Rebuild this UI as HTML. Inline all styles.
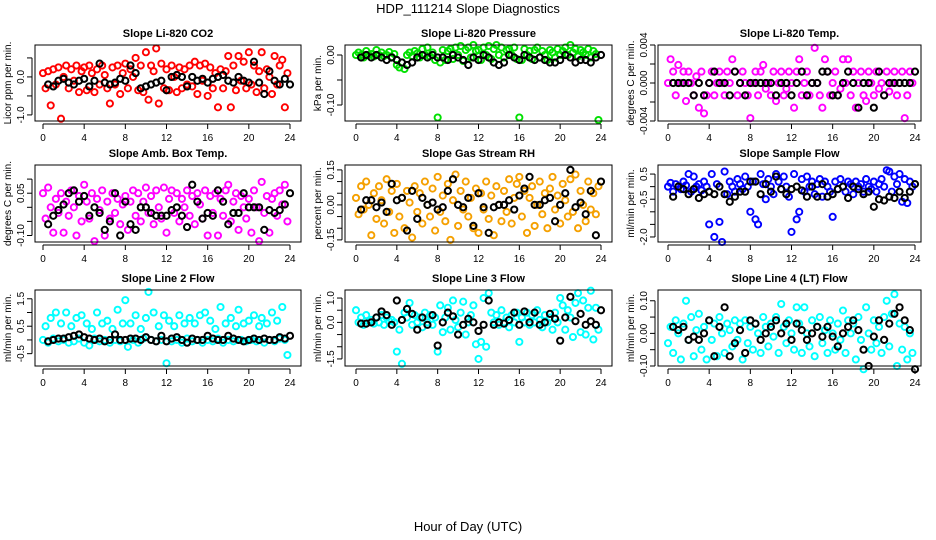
<!DOCTYPE html>
<html><head><meta charset="utf-8">
<style>
html,body{margin:0;padding:0;background:#fff;}
svg{display:block;font-family:"Liberation Sans",Arial,sans-serif;}
</style></head>
<body>
<svg id="chart" width="936" height="540" viewBox="0 0 936 540">
<text x="468" y="13" text-anchor="middle" font-size="13">HDP_111214  Slope Diagnostics</text>
<text x="468" y="531" text-anchor="middle" font-size="13">Hour of Day (UTC)</text>
</svg>
<script>
// shared hour categories
const hoursColor = [0,0.25,0.5,0.75,1,1.25,1.5,1.75,2,2.25,2.5,2.75,3,3.25,3.5,3.75,4,4.25,4.5,4.75,5,5.25,5.5,5.75,6,6.25,6.5,6.75,7,7.25,7.5,7.75,8,8.25,8.5,8.75,9,9.25,9.5,9.75,10,10.25,10.5,10.75,11,11.25,11.5,11.75,12,12.25,12.5,12.75,13,13.25,13.5,13.75,14,14.25,14.5,14.75,15,15.25,15.5,15.75,16,16.25,16.5,16.75,17,17.25,17.5,17.75,18,18.25,18.5,18.75,19,19.25,19.5,19.75,20,20.25,20.5,20.75,21,21.25,21.5,21.75,22,22.25,22.5,22.75,23,23.25,23.5,23.75];
const hoursBlack = [0.5,1,1.5,2,2.5,3,3.5,4,4.5,5,5.5,6,6.5,7,7.5,8,8.5,9,9.5,10,10.5,11,11.5,12,12.5,13,13.5,14,14.5,15,15.5,16,16.5,17,17.5,18,18.5,19,19.5,20,20.5,21,21.5,22,22.5,23,23.5,24];
const xTicks = [0,4,8,12,16,20,24];

const co2Color = [0.1,-0.3,0.15,-0.75,0.2,-0.2,0.25,-1.1,0.0,0.3,-0.3,0.2,-0.1,0.3,-0.4,0.15,0.25,-0.35,0.3,0.1,-0.4,0.2,-0.2,0.3,0.05,-0.3,-0.7,0.25,-0.2,0.3,-0.45,0.1,0.35,-0.3,0.2,0.0,0.5,-0.35,0.3,-0.4,0.65,-0.6,0.3,0.15,0.75,-0.7,0.35,-0.3,0.2,-0.35,0.3,0.0,-0.4,0.25,-0.3,0.2,-0.2,0.3,-0.25,0.4,-0.45,0.3,-0.1,0.35,-0.5,0.25,-0.3,0.1,-0.8,0.2,-0.3,0.15,0.55,-0.8,0.3,-0.35,0.55,-0.1,0.4,-0.3,0.65,-0.2,0.3,-0.4,0.15,0.65,-0.3,0.2,0.0,-0.45,0.55,-0.2,0.3,0.45,-0.8,0.1];
const co2Black = [-0.2,-0.25,-0.1,-0.05,-0.15,-0.2,-0.1,-0.05,-0.25,-0.1,0.35,-0.15,-0.2,-0.15,-0.05,-0.1,0.3,0.1,-0.3,-0.25,-0.2,-0.15,-0.1,-0.35,0.0,0.05,0.0,-0.25,0.0,-0.1,-0.05,-0.15,-0.05,0.0,0.05,-0.1,-0.15,0.0,-0.1,-0.15,0.4,-0.15,-0.45,0.15,-0.1,-0.2,-0.05,-0.2];
const co2Ticks = [-1.0,-0.5,0.0,0.5];
const co2Labels = ["-1.0","","0.0",""];

const presColor = [0.0,0.005,0.0,-0.005,0.008,0.0,0.002,-0.003,0.01,0.0,0.005,-0.002,0.0,0.006,-0.004,0.002,-0.02,-0.025,-0.015,-0.028,0.0,0.005,-0.002,0.008,0.003,-0.005,0.012,0.0,0.015,-0.003,0.005,-0.01,-0.125,-0.015,0.01,-0.01,0.008,0.012,-0.008,0.015,0.0,0.018,-0.012,0.01,0.015,-0.005,0.02,0.008,0.01,-0.01,0.015,0.0,0.018,-0.008,0.012,0.02,0.0,0.015,-0.005,0.01,0.012,0.0,0.015,-0.008,-0.125,-0.01,0.012,0.0,0.008,-0.008,0.01,0.015,-0.005,0.008,0.0,-0.01,0.01,0.005,-0.005,0.012,0.0,0.008,0.015,0.0,0.02,0.005,0.012,-0.003,0.01,0.005,0.0,0.012,-0.005,0.008,0.002,-0.13];
const presBlack = [-0.005,0.0,-0.005,0.0,-0.005,-0.01,-0.005,-0.01,-0.015,-0.02,-0.015,-0.005,0.0,-0.005,0.0,-0.005,-0.005,-0.01,0.0,-0.005,-0.01,-0.02,-0.005,-0.01,0.0,-0.005,-0.015,-0.02,-0.015,0.0,-0.005,-0.01,0.0,-0.005,-0.01,-0.005,-0.01,-0.015,-0.015,-0.01,0.0,-0.005,-0.015,-0.01,-0.01,-0.015,-0.005,0.0];
const presTicks = [-0.10,-0.05,0.00];
const presLabels = ["-0.10","","0.00"];

const tempColor = [0,0.0025,0.0012,-0.0013,0.0019,0,0.0012,-0.0019,0.0012,0,-0.0013,0.0007,-0.0026,0.0012,-0.0032,-0.0013,0,0.0012,-0.0013,0,0.0012,0,-0.0013,0.0012,0,0.0025,0.0012,-0.0013,0,0.0012,0,-0.0013,-0.0037,0,0.0012,-0.0013,0.0012,0.0019,-0.0006,0,-0.0013,0.0012,-0.0019,0,0.0012,-0.0013,-0.0006,0.0012,0,-0.0026,0.0012,0.0025,-0.0013,0,0.0012,-0.0013,0,0.0037,0,-0.0013,-0.0026,0.0025,0.0012,-0.0013,0,0.0012,-0.0013,-0.0006,0.0025,0,0.0025,-0.0013,0.0012,-0.0026,0,0.0012,-0.0013,-0.0019,0.0012,0,-0.0013,0.0012,-0.0006,0,-0.0013,0.0012,-0.0009,0,0.0012,-0.0013,0,0.0012,-0.0037,-0.0013,0.0012,0];
const tempBlack = [0,0,0,0,-0.0013,0,-0.0013,0,0.0012,0,0,-0.0013,0.0012,0,-0.0013,0,0,0,0,0,-0.0013,0,0,-0.0013,0,0.0012,-0.0013,0,0,0.0012,0.0012,-0.0013,-0.0013,0,0.0012,0,-0.0026,0,0,-0.0026,0.0012,-0.0013,0,0,0,0,0,0.0012];
const tempTicks = [-0.004,-0.002,0.000,0.002,0.004];
const tempLabels = ["-0.004","","0.000","","0.004"];

const ambColor = [0.05,-0.04,0.07,0.0,-0.09,0.03,-0.02,0.05,-0.09,0.02,-0.03,0.06,0.0,-0.1,0.04,-0.05,0.08,0.02,-0.04,0.05,-0.12,0.03,-0.01,0.06,-0.1,0.02,-0.04,0.05,-0.02,0.03,-0.06,0.01,0.04,-0.08,0.02,0.06,-0.03,0.05,-0.05,0.02,0.07,-0.02,0.04,-0.06,0.06,0.0,-0.04,0.07,-0.09,0.03,0.06,-0.02,0.05,-0.05,0.03,0.0,0.06,-0.03,0.04,-0.06,0.05,0.01,-0.04,0.06,-0.1,0.04,-0.02,0.05,-0.1,0.03,-0.03,0.06,0.08,-0.05,0.02,0.05,-0.08,0.04,0.0,-0.04,0.03,-0.09,0.06,0.0,-0.12,0.09,-0.02,0.04,-0.09,0.03,0.05,-0.03,0.06,0.01,0.08,-0.05];
const ambBlack = [-0.06,-0.03,-0.01,0.01,0.05,0.06,0.02,0.04,-0.03,0.0,-0.02,-0.08,-0.05,0.05,-0.1,0.02,-0.06,-0.08,0.0,0.0,-0.02,-0.03,-0.03,-0.03,-0.01,0.0,-0.03,-0.07,0.08,0.02,-0.04,-0.02,-0.03,0.06,0.02,-0.06,-0.02,-0.02,0.05,0.0,0.0,0.0,-0.08,-0.01,-0.02,-0.01,0.01,0.05];
const ambTicks = [-0.10,-0.05,0.00,0.05,0.10];
const ambLabels = ["-0.10","","","0.05",""];

const rhColor = [0.03,-0.04,0.08,-0.02,0.1,0.0,-0.13,0.05,-0.06,0.08,0.02,-0.08,0.11,-0.03,0.06,-0.12,0.09,-0.05,0.03,-0.1,0.06,0.01,-0.14,0.08,-0.03,0.05,-0.08,0.1,0.0,-0.05,0.07,-0.11,0.12,-0.03,0.04,-0.07,0.09,-0.15,0.02,0.13,-0.09,0.06,-0.02,0.1,-0.05,0.03,-0.1,0.07,-0.12,0.05,-0.02,0.1,-0.06,0.04,-0.13,0.08,0.0,-0.07,0.06,-0.03,0.11,-0.08,0.03,0.09,0.12,-0.05,0.06,-0.12,0.03,0.08,-0.09,0.0,0.1,-0.04,0.05,-0.1,0.07,0.12,-0.02,0.04,-0.08,0.09,0.02,-0.05,0.11,-0.03,0.13,-0.1,0.06,0.0,-0.07,0.1,-0.02,0.05,-0.04,0.08];
const rhBlack = [-0.02,0.02,0.02,-0.01,0.01,-0.03,0.09,0.02,0.03,-0.11,0.06,-0.06,0.03,0.0,0.01,-0.02,-0.01,0.06,0.11,0.0,-0.01,0.03,-0.09,0.05,-0.01,-0.12,-0.01,0.0,0.0,0.02,-0.02,0.04,0.07,0.12,0.0,0.0,0.02,0.03,-0.07,0.0,0.05,0.15,-0.01,0.01,-0.04,0.06,-0.13,0.1];
const rhTicks = [-0.15,-0.10,-0.05,0.00,0.05,0.10,0.15];
const rhLabels = ["-0.15","","","0.00","","","0.15"];

const sampColor = [0.0,0.15,-0.2,0.1,0.0,-0.1,0.2,0.05,0.5,-0.2,0.4,0.0,0.1,-0.15,0.2,0.0,-1.5,0.5,-2.0,0.1,-1.4,-2.2,0.6,-0.3,0.2,0.0,-0.2,0.3,0.1,-0.1,0.4,0.0,-1.0,0.2,-1.3,-1.5,0.5,0.1,-0.5,0.3,0.0,-0.3,0.5,0.2,-0.1,0.4,0.0,-0.4,-1.8,0.5,-1.3,-1.0,0.3,-0.2,0.4,0.0,0.2,-0.3,0.1,0.3,-0.4,0.2,0.0,-0.2,-1.2,0.2,-0.1,0.3,0.0,-0.2,0.2,0.1,-0.3,0.2,0.0,0.1,-0.2,0.3,0.0,-0.1,0.2,-0.2,0.1,0.3,0.0,0.65,0.6,-0.2,0.4,0.1,0.5,-0.6,0.3,-0.65,0.2,0.0];
const sampBlack = [-0.4,0.0,-0.1,-0.3,-0.1,-0.45,-0.3,-0.2,-0.3,0.0,-0.3,-0.6,-0.4,-0.2,-0.2,0.2,0.2,-0.3,0.1,-0.2,0.4,-0.1,-0.3,-0.1,0.0,-0.15,-0.4,0.0,-0.4,0.1,-0.4,-0.3,-0.1,0.0,-0.45,0.0,-0.1,-0.3,-0.2,-0.8,-0.5,-0.55,-0.4,-0.45,-0.2,-0.45,-0.2,0.1];
const sampTicks = [-2.0,-1.5,-1.0,-0.5,0.0,0.5];
const sampLabels = ["-2.0","","","-0.5","","0.5"];

const l2Color = [0.0,0.5,-0.1,0.8,0.05,1.0,-0.05,0.6,0.0,1.0,-0.1,0.5,-0.05,0.8,0.05,0.9,-0.1,0.6,-0.2,0.4,0.05,1.0,-0.05,0.6,0.0,0.7,-0.1,0.4,0.0,1.1,-0.05,0.6,1.45,-0.25,0.6,0.0,0.9,-0.1,0.4,0.05,0.8,1.75,0.0,1.0,-0.05,0.5,0.0,0.9,-0.85,0.7,-0.05,0.5,0.0,0.9,-0.1,0.6,0.05,0.8,-0.05,0.6,0.0,0.9,-0.1,1.0,0.0,0.7,-0.05,0.4,0.05,1.2,-0.1,0.6,0.0,0.8,-0.05,0.5,1.1,0.0,0.6,-0.05,0.7,0.0,0.9,-0.05,0.5,0.8,-0.1,0.6,0.0,1.0,-0.05,0.7,0.05,1.2,0.0,-0.55];
const l2Black = [-0.05,0.0,0.05,0.05,0.1,0.15,0.2,0.1,0.05,0.0,0.05,-0.05,0.0,0.2,0.0,0.0,0.05,0.05,0.0,0.1,0.0,-0.05,0.15,-0.05,0.05,0.1,0.0,-0.1,0.05,0.0,0.0,0.15,0.05,0.0,0.0,0.15,0.05,0.0,-0.05,0.0,0.05,0.0,0.05,0.0,0.0,0.1,0.05,0.15];
const l2Ticks = [-0.5,0.0,0.5,1.0,1.5];
const l2Labels = ["-0.5","","0.5","","1.5"];

const l3Color = [0.5,0.0,0.2,-0.1,0.3,0.0,0.1,-0.05,0.2,0.0,0.3,-0.1,0.2,0.05,0.1,0.0,-1.2,-0.3,-1.7,0.4,0.2,0.8,-0.1,0.3,0.0,0.2,-0.2,0.4,0.0,0.3,-0.1,0.2,-1.2,0.7,-0.4,0.2,0.6,-0.3,0.9,0.1,-0.2,0.4,0.85,-0.5,0.0,0.3,0.7,-0.9,-1.5,-0.8,1.0,-1.0,1.2,0.4,0.0,0.3,-0.1,0.5,0.0,0.2,-0.2,0.3,0.0,0.4,-0.8,0.2,0.0,0.4,-0.1,0.3,0.0,0.5,0.1,-0.2,0.3,0.0,0.2,-0.3,0.4,0.0,1.0,0.7,-0.3,0.5,0.2,-0.6,0.8,1.2,-0.4,0.9,-0.5,0.6,1.3,-0.7,0.6,-0.3];
const l3Black = [-0.05,-0.05,0.0,0.2,0.45,0.3,-0.1,0.9,0.1,0.55,0.35,-0.3,0.2,-0.1,0.3,-0.95,0.0,0.4,0.25,-0.5,-0.1,0.15,0.0,-0.35,-0.1,0.9,-0.1,0.0,-0.05,0.1,0.4,-0.1,0.45,0.0,0.4,-0.1,0.0,0.35,0.15,-0.75,0.2,1.05,0.05,0.35,-0.1,0.05,-0.1,0.5];
const l3Ticks = [-1.5,-1.0,-0.5,0.0,0.5,1.0];
const l3Labels = ["-1.5","","","0.0","","1.0"];

const l4Color = [-0.03,0.02,-0.06,0.04,0.0,-0.08,0.03,0.1,-0.02,0.05,-0.07,0.01,0.06,-0.05,0.02,-0.08,0.04,-0.02,0.03,-0.07,0.05,0.0,-0.06,0.03,0.01,-0.04,0.04,-0.02,0.03,-0.08,0.04,-0.03,0.02,-0.05,0.03,0.0,-0.06,0.05,0.02,-0.04,0.03,-0.01,0.05,-0.06,0.09,0.02,-0.03,0.04,0.0,-0.05,0.08,0.03,-0.06,0.08,0.0,-0.04,0.04,-0.07,0.02,0.05,-0.03,0.01,-0.06,0.04,0.0,-0.05,0.03,-0.02,0.07,-0.06,0.04,0.0,0.03,-0.08,0.05,-0.02,-0.11,0.08,0.0,-0.05,0.04,-0.03,0.02,-0.06,0.05,0.1,-0.04,0.06,0.12,-0.1,0.03,-0.05,0.02,-0.08,0.0,-0.06];
const l4Black = [0.02,0.01,0.02,-0.02,-0.01,-0.02,0.0,0.04,-0.07,0.02,0.08,-0.07,-0.03,0.01,-0.06,0.04,0.03,-0.02,0.0,0.02,0.04,0.0,0.03,-0.02,0.03,0.01,-0.02,0.0,0.02,-0.01,0.02,-0.01,-0.04,0.0,0.02,0.04,0.01,-0.05,-0.1,-0.01,0.04,-0.02,0.03,0.06,0.08,0.04,0.01,-0.11];
const l4Ticks = [-0.10,-0.05,0.00,0.05,0.10];
const l4Labels = ["-0.10","","0.00","","0.10"];

const NS = "http://www.w3.org/2000/svg";
const svg = document.getElementById('chart');
const cols = [{l:35,r:301,x0:43,x24:290},{l:345,r:612,x0:356,x24:601},{l:658,r:921,x0:668,x24:915}];
const rows = [{t:45,b:121},{t:165,b:242},{t:290,b:366}];

const panels = [
 {key:'co2',title:'Slope Li-820 CO2',ylab:'Licor ppm per min.',c:0,r:0,ymin:-1.16,ymax:0.84,col:'#ff0000',cv:co2Color,bv:co2Black,ticks:co2Ticks,labels:co2Labels},
 {key:'pressure',title:'Slope Li-820 Pressure',ylab:'kPa per min.',c:1,r:0,ymin:-0.132,ymax:0.02,col:'#00e000',cv:presColor,bv:presBlack,ticks:presTicks,labels:presLabels},
 {key:'temp',title:'Slope Li-820 Temp.',ylab:'degrees C per min.',c:2,r:0,ymin:-0.004,ymax:0.004,col:'#ff00ff',cv:tempColor,bv:tempBlack,ticks:tempTicks,labels:tempLabels},
 {key:'amb-box-temp',title:'Slope Amb. Box Temp.',ylab:'degrees C per min.',c:0,r:1,ymin:-0.123,ymax:0.15,col:'#ff00ff',cv:ambColor,bv:ambBlack,ticks:ambTicks,labels:ambLabels},
 {key:'gas-stream-rh',title:'Slope Gas Stream RH',ylab:'percent per min.',c:1,r:1,ymin:-0.159,ymax:0.171,col:'#f5a000',cv:rhColor,bv:rhBlack,ticks:rhTicks,labels:rhLabels},
 {key:'sample-flow',title:'Slope Sample Flow',ylab:'ml/min per min.',c:2,r:1,ymin:-2.2,ymax:0.86,col:'#0000ff',cv:sampColor,bv:sampBlack,ticks:sampTicks,labels:sampLabels},
 {key:'line2-flow',title:'Slope Line 2 Flow',ylab:'ml/min per min.',c:0,r:2,ymin:-0.95,ymax:1.82,col:'#00ffff',cv:l2Color,bv:l2Black,ticks:l2Ticks,labels:l2Labels},
 {key:'line3-flow',title:'Slope Line 3 Flow',ylab:'ml/min per min.',c:1,r:2,ymin:-1.79,ymax:1.33,col:'#00ffff',cv:l3Color,bv:l3Black,ticks:l3Ticks,labels:l3Labels},
 {key:'line4-flow',title:'Slope Line 4 (LT) Flow',ylab:'ml/min per min.',c:2,r:2,ymin:-0.1,ymax:0.133,col:'#00ffff',cv:l4Color,bv:l4Black,ticks:l4Ticks,labels:l4Labels}
];

function mk(tag, attrs, parent){
  const e = document.createElementNS(NS, tag);
  for (const k in attrs) e.setAttribute(k, attrs[k]);
  parent.appendChild(e);
  return e;
}

panels.forEach(p => {
  const C = cols[p.c], R = rows[p.r];
  const xs = h => C.x0 + (C.x24 - C.x0) * h / 24;
  const ys = v => R.b - (R.b - R.t) * (v - p.ymin) / (p.ymax - p.ymin);
  const g = mk('g', {}, svg);
  
  

  const t = mk('text', {x:(C.l + C.r)/2, y:R.t - 8, 'text-anchor':'middle', 'font-size':'11', 'font-weight':'bold'}, g);
  t.textContent = p.title;
  
  

  const yl = mk('text', {x:0, y:0, 'text-anchor':'middle', 'font-size':'10', transform:`translate(${C.l - 24},${(R.t + R.b)/2}) rotate(-90)`}, g);
  yl.textContent = p.ylab;
  
  

  const pts = mk('g', {fill:'none'}, g);
  
  
  const n = Math.min(hoursColor.length, p.cv.length);
  for (let i = 0; i < n; i++) {
    const c = mk('circle', {cx:xs(hoursColor[i]), cy:ys(p.cv[i]), r:3.1, stroke:p.col, 'stroke-width':1.9}, pts);
    
    
  }
  const bpts = mk('g', {fill:'none'}, g);
  
  
  const m = Math.min(hoursBlack.length, p.bv.length);
  for (let i = 0; i < m; i++) {
    const c = mk('circle', {cx:xs(hoursBlack[i]), cy:ys(p.bv[i]), r:3.1, stroke:'#000', 'stroke-width':2}, bpts);
    
    
  }

  const box = mk('rect', {x:C.l, y:R.t, width:C.r - C.l, height:R.b - R.t, fill:'none', stroke:'#000', 'stroke-width':1}, g);
  
  

  const xa = mk('g', {}, g);
  
  
  mk('line', {x1:xs(xTicks[0]), x2:xs(xTicks[xTicks.length-1]), y1:R.b + 3, y2:R.b + 3, stroke:'#000'}, xa);
  xTicks.forEach(v => {
    mk('line', {x1:xs(v), x2:xs(v), y1:R.b + 3, y2:R.b + 8, stroke:'#000'}, xa);
    const tl = mk('text', {x:xs(v), y:R.b + 20, 'text-anchor':'middle', 'font-size':'10'}, xa);
    tl.textContent = v;
    
    
  });

  const ya = mk('g', {}, g);
  
  
  const tv = p.ticks.filter(v => ys(v) >= R.t - 3 && ys(v) <= R.b + 3);
  mk('line', {x1:C.l - 3, x2:C.l - 3, y1:ys(tv[0]), y2:ys(tv[tv.length-1]), stroke:'#000'}, ya);
  p.ticks.forEach((v, i) => {
    const y = ys(v);
    if (y < R.t - 3 || y > R.b + 3) return;
    mk('line', {x1:C.l - 8, x2:C.l - 3, y1:y, y2:y, stroke:'#000'}, ya);
    if (p.labels[i]) {
      const tl = mk('text', {x:0, y:0, 'text-anchor':'middle', 'font-size':'10', transform:`translate(${C.l - 11},${y}) rotate(-90)`}, ya);
      tl.textContent = p.labels[i];
      
      
    }
  });
});
</script>
</body></html>
